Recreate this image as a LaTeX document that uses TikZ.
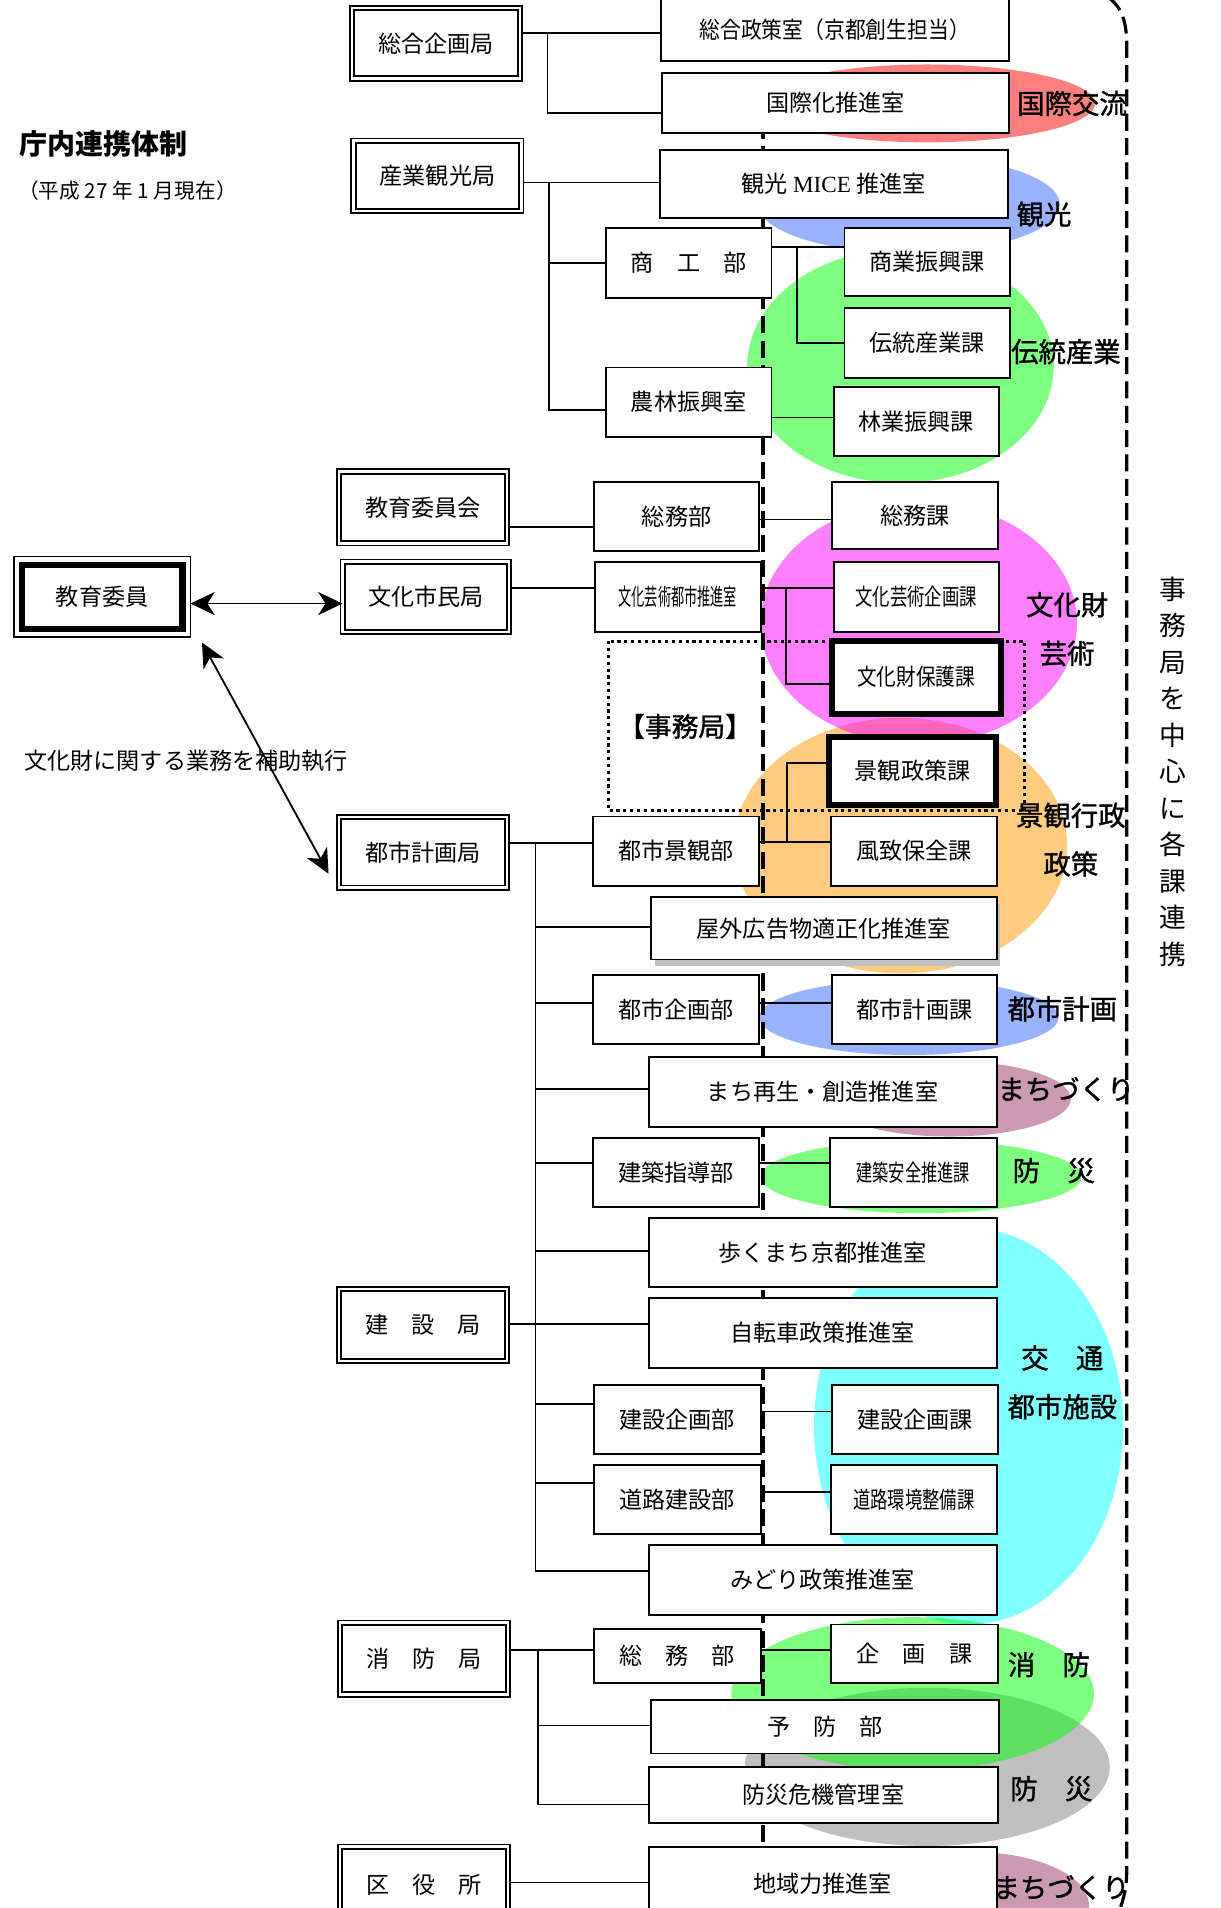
\documentclass[tikz,border=0pt]{standalone}
\usepackage{fontspec}
\usepackage{graphicx}
\setmainfont{Noto Sans CJK JP}
\newfontfamily\lserif{Liberation Serif}
\newfontfamily\medfont[FakeBold=1.2]{Noto Sans CJK JP}
\usetikzlibrary{arrows.meta}
\pgfdeclarelayer{bg}
\pgfdeclarelayer{mid}
\pgfsetlayers{bg,mid,main}
\newcommand{\nw}[2]{\scalebox{#1}[1]{#2}}
\definecolor{cred}{RGB}{255,0,0}
\definecolor{cblue}{RGB}{51,102,255}
\definecolor{cgreen}{RGB}{0,255,0}
\definecolor{cmag}{RGB}{255,0,255}
\definecolor{corange}{RGB}{255,153,0}
\definecolor{ccyan}{RGB}{0,255,255}
\definecolor{cgray}{RGB}{128,128,128}
\definecolor{cmauve}{RGB}{153,51,102}
\begin{document}
\begin{tikzpicture}[x=1pt,y=-1pt,
  every node/.style={inner sep=0pt, outer sep=0pt},
  dept/.style={draw=black, line width=1.6pt, fill=white, font=\fontsize{19}{22}\selectfont},
  bureau/.style={draw=black, line width=1.5pt, double=white, double distance=2pt, fill=white, font=\fontsize{19}{22}\selectfont},
  keybox/.style={draw=black, line width=5pt, fill=white, font=\fontsize{19}{22}\selectfont},
  conn/.style={draw=black, line width=1.4pt},
  theme/.style={font=\medfont\fontsize{22.5}{24}\selectfont},
  blob/.style={fill opacity=0.5},
  bigdash/.style={line width=2.6pt, dash pattern=on 14pt off 6pt},
  tip/.style={line width=1.5pt, {Stealth[length=20pt,width=19pt,inset=6pt]}-{Stealth[length=20pt,width=19pt,inset=6pt]}},
]
\useasboundingbox (0,0) rectangle (1003,1568);

% ---------- bureaus ----------
\node[bureau, minimum width=138pt, minimum height=58pt] (soukikaku) at (358.5,35.5) {総合企画局};
\node[bureau, minimum width=138pt, minimum height=58pt] (sangyo) at (359.5,144.5) {産業観光局};
\node[bureau, minimum width=138pt, minimum height=59pt] (kyoiinkai) at (347.5,417) {教育委員会};
\node[bureau, minimum width=137pt, minimum height=58pt] (bunka) at (350,490.5) {文化市民局};
\node[bureau, minimum width=138pt, minimum height=58pt] (toshikei) at (347.5,700.5) {都市計画局};
\node[bureau, minimum width=138pt, minimum height=59pt] (kensetsu) at (347.5,1089) {建　設　局};
\node[bureau, minimum width=138pt, minimum height=59pt] (shobo) at (348.5,1363) {消　防　局};
\node[bureau, minimum width=138pt, minimum height=63pt] (kuyaku) at (348.5,1549) {区　役　所};

% education board
\node[draw=black, line width=1.2pt, fill=white, minimum width=145pt, minimum height=66pt,
      font=\fontsize{19}{22}\selectfont] (kyoiku) at (84,490.5) {教育委員};
\draw[line width=5pt] ([shift={(6.5,6.5)}]kyoiku.north west) rectangle ([shift={(-6.5,-6.5)}]kyoiku.south east);

% ---------- departments ----------
\node[dept, minimum width=286pt, minimum height=51pt] (sousei) at (686,24.5) {\nw{0.9}{総合政策室（京都創生担当）}};
\node[dept, minimum width=285pt, minimum height=49pt] (kokusai) at (686.5,84.5) {国際化推進室};
\node[dept, minimum width=286pt, minimum height=56pt] (kanko) at (685,151) {観光 {\lserif MICE} 推進室};
\node[dept, minimum width=136pt, minimum height=58pt] (shoko) at (566,216) {商　工　部};
\node[dept, minimum width=136pt, minimum height=56pt] (shogyo) at (762,215) {商業振興課};
\node[dept, minimum width=136pt, minimum height=58pt] (dento) at (762,282) {伝統産業課};
\node[dept, minimum width=136pt, minimum height=57pt] (norin) at (566,330.5) {農林振興室};
\node[dept, minimum width=136pt, minimum height=57pt] (ringyo) at (753,346.5) {林業振興課};
\node[dept, minimum width=136pt, minimum height=57pt] (somubu) at (556,424.5) {総務部};
\node[dept, minimum width=136pt, minimum height=55pt] (somuka) at (752,423.5) {総務課};
\node[dept, minimum width=136pt, minimum height=57pt] (bungei) at (557,490.5) {\nw{0.57}{文化芸術都市推進室}};
\node[dept, minimum width=136pt, minimum height=57pt] (bgkikaku) at (753,490.5) {\nw{0.75}{文化芸術企画課}};
\node[keybox, minimum width=139pt, minimum height=60pt] (bunkazai) at (753,556.5) {\nw{0.85}{文化財保護課}};
\node[keybox, minimum width=137pt, minimum height=56pt] (keikan) at (750,633.5) {景観政策課};
\node[dept, minimum width=137pt, minimum height=57pt] (tkeikan) at (555.5,699.5) {都市景観部};
\node[dept, minimum width=136pt, minimum height=57pt] (fuchi) at (751,699.5) {風致保全課};
\node[dept, minimum width=284pt, minimum height=51pt] (okugai) at (677,763) {屋外広告物適正化推進室};
\node[dept, minimum width=137pt, minimum height=57pt] (tkikaku) at (555.5,829.5) {都市企画部};
\node[dept, minimum width=135pt, minimum height=57pt] (tkeikakuka) at (751.5,829.5) {都市計画課};
\node[dept, minimum width=286pt, minimum height=57pt] (machi) at (676,897.5) {まち再生・創造推進室};
\node[dept, minimum width=137pt, minimum height=57pt] (kshido) at (555.5,963.5) {建築指導部};
\node[dept, minimum width=137pt, minimum height=57pt] (kanzen) at (750.5,963.5) {\nw{0.7}{建築安全推進課}};
\node[dept, minimum width=286pt, minimum height=57pt] (aruku) at (676,1029.5) {歩くまち京都推進室};
\node[dept, minimum width=286pt, minimum height=57pt] (jiten) at (676,1095.5) {自転車政策推進室};
\node[dept, minimum width=137pt, minimum height=57pt] (kskikakubu) at (556.5,1166.5) {建設企画部};
\node[dept, minimum width=136pt, minimum height=57pt] (kskikakuka) at (752,1166.5) {建設企画課};
\node[dept, minimum width=137pt, minimum height=57pt] (dkensetsu) at (556.5,1232.5) {道路建設部};
\node[dept, minimum width=136pt, minimum height=57pt] (dkankyo) at (751,1232.5) {\nw{0.75}{道路環境整備課}};
\node[dept, minimum width=286pt, minimum height=57pt] (midori) at (676,1298.5) {みどり政策推進室};
\node[dept, minimum width=137pt, minimum height=44pt] (fsomu) at (556.5,1361) {総　務　部};
\node[dept, minimum width=137pt, minimum height=48pt] (kikaku) at (751.5,1359) {企　画　課};
\node[dept, minimum width=286pt, minimum height=44pt] (yobo) at (678,1419) {予　防　部};
\node[dept, minimum width=287pt, minimum height=46pt] (bosai) at (676.5,1475) {防災危機管理室};
\node[dept, minimum width=286pt, minimum height=60pt] (chiiki) at (676,1548) {地域力推進室};

% ---------- coloured areas ----------
\begin{pgfonlayer}{bg}
\fill[blob, fill=cred] (762,85) ellipse [x radius=138pt, y radius=32pt];
\fill[blob, fill=cgreen] (740,301) ellipse [x radius=126pt, y radius=96pt];
\fill[blob, fill=cblue] (747,168) ellipse [x radius=124pt, y radius=40pt];
\fill[blob, fill=corange] (740,695) ellipse [x radius=137pt, y radius=105pt];
\fill[blob, fill=cmag] (755,512) ellipse [x radius=130pt, y radius=100pt];
\fill[blob, fill=cblue] (747,836) ellipse [x radius=123pt, y radius=31pt];
\fill[blob, fill=cmauve] (780,903) ellipse [x radius=100pt, y radius=31pt];
\fill[blob, fill=cgreen] (757,967) ellipse [x radius=132pt, y radius=30pt];
\fill[blob, fill=ccyan] (796,1172) ellipse [x radius=127pt, y radius=163pt];
\fill[blob, fill=cgray] (762,1452) ellipse [x radius=150pt, y radius=65pt];
\fill[blob, fill=cgreen] (750,1392) ellipse [x radius=149pt, y radius=63pt];
\fill[blob, fill=cmauve] (800,1566) ellipse [x radius=95pt, y radius=44pt];
\end{pgfonlayer}

% ---------- lines under boxes ----------
\begin{pgfonlayer}{mid}
\draw[bigdash] (627,100) -- (627,1572);
\draw[bigdash] (911,-2) .. controls (922,6) and (926,18) .. (926,38) -- (926,1535) .. controls (926,1550) and (924,1560) .. (919,1572);
\draw[line width=2.6pt, dash pattern=on 2.6pt off 3pt] (500,527) rectangle (842,666);
\fill[black!25] ([xshift=3pt,yshift=-5pt]okugai.south west) rectangle ([xshift=3pt,yshift=-5pt]okugai.north east);

\draw[conn] (soukikaku.east |- 0,27) -- (sousei.west |- 0,27) (450,27) |- (kokusai.west |- 0,93);
\draw[conn] (sangyo.east |- 0,150) -- (kanko.west |- 0,150) (451,150) |- (norin.west |- 0,337) (451,216) -- (shoko.west |- 0,216);
\draw[conn] (shoko.east |- 0,203) -- (shogyo.west |- 0,203) (655,203) |- (dento.west |- 0,282);
\draw[conn] (norin.east |- 0,343) -- (ringyo.west |- 0,343);
\draw[conn] (kyoiinkai.east |- 0,433) -- (somubu.west |- 0,433);
\draw[conn] (somubu.east |- 0,427) -- (somuka.west |- 0,427);
\draw[conn] (bunka.east |- 0,483) -- (bungei.west |- 0,483);
\draw[conn] (bungei.east |- 0,483) -- (bgkikaku.west |- 0,483) (646,483) |- (bunkazai.west |- 0,562);
\draw[conn] (toshikei.east |- 0,693) -- (tkeikan.west |- 0,693);
\draw[conn] (tkeikan.east |- 0,692) -- (fuchi.west |- 0,692) (647,692) |- (keikan.west |- 0,627);
\draw[conn] (440,693) -- (440,1291);
\draw[conn] (440,762) -- (okugai.west |- 0,762);
\draw[conn] (440,824) -- (tkikaku.west |- 0,824);
\draw[conn] (440,895) -- (machi.west |- 0,895);
\draw[conn] (440,956) -- (kshido.west |- 0,956);
\draw[conn] (440,1028) -- (aruku.west |- 0,1028);
\draw[conn] (kensetsu.east |- 0,1088) -- (jiten.west |- 0,1088);
\draw[conn] (440,1154) -- (kskikakubu.west |- 0,1154);
\draw[conn] (440,1219) -- (dkensetsu.west |- 0,1219);
\draw[conn] (440,1291) -- (midori.west |- 0,1291);
\draw[conn] (tkikaku.east |- 0,824) -- (tkeikakuka.west |- 0,824);
\draw[conn] (kshido.east |- 0,956) -- (kanzen.west |- 0,956);
\draw[conn] (kskikakubu.east |- 0,1160) -- (kskikakuka.west |- 0,1160);
\draw[conn] (dkensetsu.east |- 0,1226) -- (dkankyo.west |- 0,1226);
\draw[conn] (shobo.east |- 0,1356) -- (fsomu.west |- 0,1356);
\draw[conn] (fsomu.east |- 0,1356) -- (kikaku.west |- 0,1356);
\draw[conn] (442,1356) |- (bosai.west |- 0,1483) (442,1418) -- (yobo.west |- 0,1418);
\draw[conn] (kuyaku.east |- 0,1547) -- (chiiki.west |- 0,1547);
\end{pgfonlayer}

% ---------- arrows ----------
\coordinate (d1) at (166,528);
\coordinate (d2) at (270,718);
\draw[tip] (kyoiku.east |- 0,496) -- (bunka.west |- 0,496);
\draw[tip] (d1) -- (d2);

% ---------- texts ----------
\node[anchor=west, font=\bfseries\fontsize{23}{25}\selectfont] (title) at (16,118) {庁内連携体制};
\node[anchor=west, font=\fontsize{17}{19}\selectfont] (date) at (15,157) {（平成 27 年 1 月現在）};
\node[anchor=west, font=\fontsize{19}{21}\selectfont] (hojo) at (20,625) {文化財に関する業務を補助執行};
\node[font=\medfont\fontsize{22}{24}\selectfont] (jimu) at (563,597) {【事務局】};

\node[theme] (t1) at (881,85) {国際交流};
\node[theme] (t2) at (858,176) {観光};
\node[theme] (t3) at (876,289) {伝統産業};
\node[theme] (t4) at (877,497) {文化財};
\node[theme] (t5) at (877,537) {芸術};
\node[theme] (t6) at (880,670) {景観行政};
\node[theme] (t7) at (880,710) {政策};
\node[theme] (t8) at (873,829) {都市計画};
\node[theme] (t9) at (876,895) {まちづくり};
\node[theme] (t10) at (866,962) {防　災};
\node[theme] (t11) at (873,1116) {交　通};
\node[theme] (t12) at (873,1156) {都市施設};
\node[theme] (t13) at (862,1368) {消　防};
\node[theme] (t14) at (864,1470) {防　災};
\node[theme] (t15) at (872,1551) {まちづくり};

\node[align=center, font=\fontsize{22}{30}\selectfont] (vert) at (964,634) {事\\務\\局\\を\\中\\心\\に\\各\\課\\連\\携};
\end{tikzpicture}
\end{document}
